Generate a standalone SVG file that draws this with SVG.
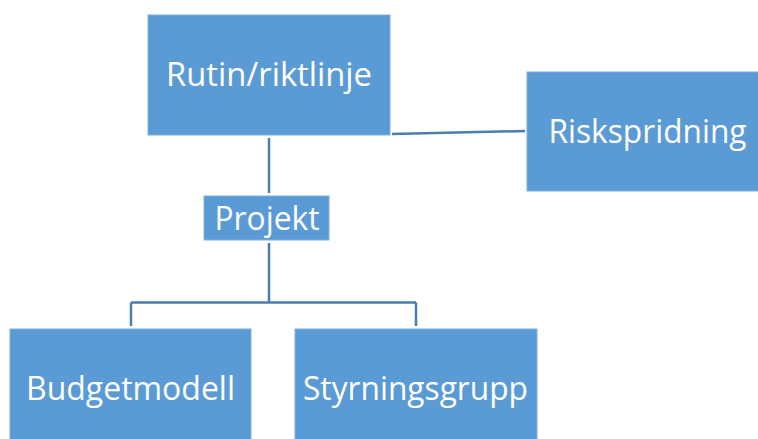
<svg xmlns="http://www.w3.org/2000/svg" width="758" height="439" viewBox="0 0 758 439">
<style>
.box{fill:#5B9BD5;stroke:#7FB0DE;stroke-width:1}
.lbl{font-family:"Open Sans","Noto Sans",sans-serif;font-size:32px;fill:#FFFFFF;text-anchor:middle}
.con{fill:none;stroke:#4A7EB0;stroke-width:2.5}
</style>
<rect width="758" height="439" fill="#FFFFFF"/>
<g id="connectors">
<path class="con" d="M269,138 V193"/>
<path class="con" d="M269,243 V302.5 M131,302.5 H416 M131,302.5 V326 M416,302.5 V326"/>
<path class="con" d="M392,134 L525,131"/>
</g>
<g id="rutin">
<rect class="box" x="148" y="15" width="242" height="120"/>
<text class="lbl" x="269" y="86" textLength="206" lengthAdjust="spacingAndGlyphs">Rutin/riktlinje</text>
</g>
<g id="risk">
<rect class="box" x="527" y="72" width="232" height="119"/>
<text class="lbl" x="647.5" y="143" textLength="198" lengthAdjust="spacingAndGlyphs">Riskspridning</text>
</g>
<g id="projekt">
<rect class="box" x="204" y="196" width="125" height="44"/>
<text class="lbl" x="267" y="230" textLength="105" lengthAdjust="spacingAndGlyphs">Projekt</text>
</g>
<g id="budget">
<rect class="box" x="10" y="329" width="241" height="112"/>
<text class="lbl" x="130.5" y="400" textLength="209" lengthAdjust="spacingAndGlyphs">Budgetmodell</text>
</g>
<g id="styrning">
<rect class="box" x="295" y="329" width="242" height="112"/>
<text class="lbl" x="415.5" y="400" textLength="225" lengthAdjust="spacingAndGlyphs">Styrningsgrupp</text>
</g>
</svg>
